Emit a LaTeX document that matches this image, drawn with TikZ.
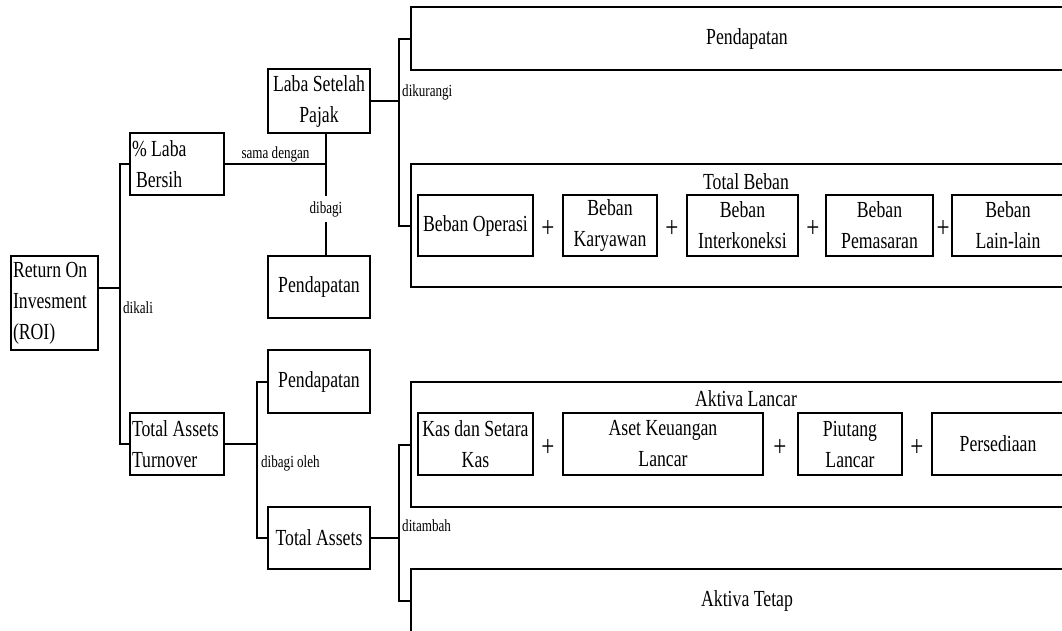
\documentclass[tikz,border=0pt]{standalone}
\usepackage{fontspec}
\setmainfont{Liberation Serif}[FakeStretch=0.77]
\newcommand\mainsz{\fontsize{23}{31}\selectfont}
\newcommand\smallsz{\fontsize{17}{20}\selectfont}
\newcommand\plussz{\fontsize{30}{30}\selectfont}
\tikzset{
  box/.style={draw, line width=2.2pt, inner sep=0pt, align=center, font=\mainsz},
  lbox/.style={box, align=flush left, inner xsep=2pt},
  wide/.style={box, minimum width=672pt},
  lbl/.style={font=\smallsz, inner sep=1pt},
  plus/.style={font=\plussz, inner sep=0pt},
  link/.style={line width=2pt},
}
\begin{document}
\begin{tikzpicture}[x=1pt, y=-1pt]
\useasboundingbox (0,0) rectangle (1062,630);
\clip (0,0) rectangle (1062,630);

% left part
\node [lbox, text width=83pt, minimum height=94pt] (roi) at (54.5,303) {Return On\\Invesment\\(ROI)};
\node [lbox, text width=90pt, minimum height=62pt] (laba) at (177,164) {\% Laba\\\hspace{4pt}Bersih};
\node [lbox, text width=90pt, minimum height=62pt] (tat) at (177,444) {Total Assets\\Turnover};

\node [box, minimum width=102pt, minimum height=64pt] (lsp)   at (319,101)   {Laba Setelah\\Pajak};
\node [box, minimum width=102pt, minimum height=62pt] (pend1) at (319,287)   {Pendapatan};
\node [box, minimum width=102pt, minimum height=63pt] (pend2) at (319,381.5) {Pendapatan};
\node [box, minimum width=102pt, minimum height=62pt] (ta)    at (319,538)   {Total Assets};

% right part, top
\node [wide, minimum height=63pt]  (pend3)  at (747,38.5)  {Pendapatan};
\node [wide, minimum height=123pt] (tbeban) at (747,225.5) {};
\node [font=\mainsz, inner sep=0pt] (ttbeban) at (746,182) {Total Beban};
\node [box, minimum width=115pt, minimum height=61pt] (bo) at (475.5,225.5) {Beban Operasi};
\node [box, minimum width=94pt,  minimum height=61pt] (bk) at (610,225.5)   {Beban\\Karyawan};
\node [box, minimum width=111pt, minimum height=61pt] (bi) at (742.5,225.5) {Beban\\Interkoneksi};
\node [box, minimum width=107pt, minimum height=61pt] (bp) at (879.5,225.5) {Beban\\Pemasaran};
\node [box, minimum width=112pt, minimum height=61pt] (bl) at (1008,225.5)  {Beban\\Lain-lain};
\node [plus] (p1) at (548,229) {+};
\node [plus] (p2) at (672,229) {+};
\node [plus] (p3) at (813,229) {+};
\node [plus] (p4) at (943,229) {+};

% right part, bottom
\node [wide, minimum height=125pt] (al) at (747,444.5) {};
\node [font=\mainsz, inner sep=0pt] (tal) at (746,399) {Aktiva Lancar};
\node [box, minimum width=115pt, minimum height=62pt] (kas) at (475.5,444) {Kas dan Setara\\Kas};
\node [box, minimum width=200pt, minimum height=62pt] (akl) at (663,444)   {Aset Keuangan\\Lancar};
\node [box, minimum width=104pt, minimum height=62pt] (pl)  at (850,444)   {Piutang\\Lancar};
\node [box, minimum width=132pt, minimum height=62pt] (ps)  at (998,444)   {Persediaan};
\node [plus] (p5) at (548,448) {+};
\node [plus] (p6) at (780,448) {+};
\node [plus] (p7) at (917,448) {+};
\node [wide, minimum height=64pt] (at) at (747,601) {Aktiva Tetap};

% connectors
\draw [link] (laba.west) -- ++(-9,0) coordinate (k1) |- (tat.west);
\draw [link] ([yshift=15pt]roi.east) -- ([yshift=15pt]roi.east -| k1);
\node [lbl, anchor=west] (tkali) at (122,308) {dikali};

\coordinate (k2) at (326,164);
\draw [link] (laba.east) -- node [lbl, above] (tsama) {sama dengan} (k2);
\draw [link] (lsp.south -| k2) -- node [lbl, fill=white, pos=0.62, inner ysep=5pt] (tbagi) {dibagi} (pend1.north -| k2);

\draw [link] (pend3.west) -- ++(-11,0) coordinate (k3) |- (tbeban.west);
\draw [link] (lsp.east) -- (lsp.east -| k3);
\node [lbl, anchor=west] (tkurang) at (401,92) {dikurangi};

\draw [link] (pend2.west) -- ++(-10,0) coordinate (k4) |- (ta.west);
\draw [link] (tat.east) -- (tat.east -| k4);
\node [lbl, anchor=west] (tbagioleh) at (260,463) {dibagi oleh};

\draw [link] (al.west) -- ++(-11,0) coordinate (k5) |- (at.west);
\draw [link] (ta.east) -- (ta.east -| k5);
\node [lbl, anchor=west] (ttambah) at (401,526) {ditambah};
\end{tikzpicture}
\end{document}
